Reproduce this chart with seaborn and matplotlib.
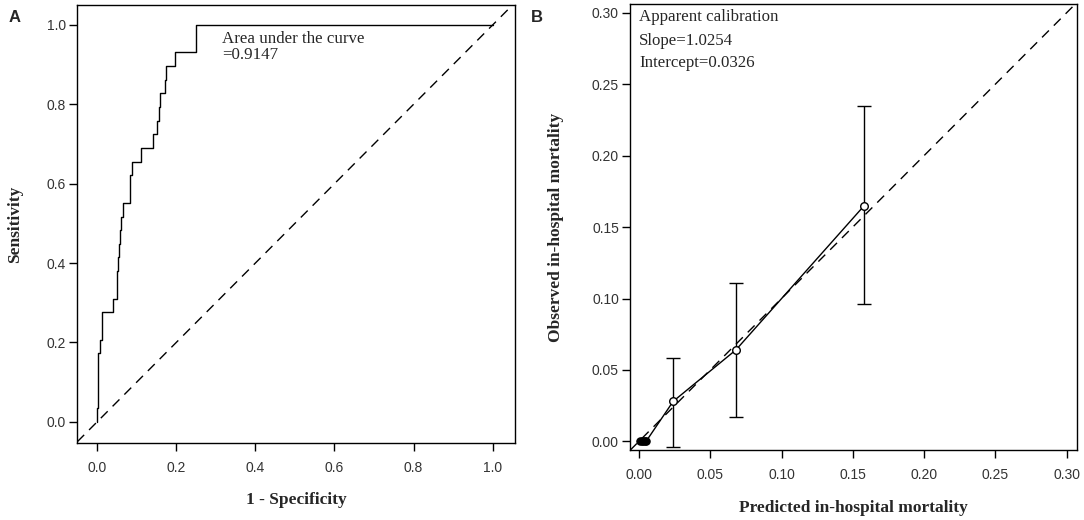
import numpy as np
import pandas as pd
import matplotlib
matplotlib.use("Agg")
import matplotlib.pyplot as plt
import seaborn as sns

# ROC curve (panel A): corners of the empirical step curve
roc_fpr = [0.000, 0.000, 0.003, 0.008, 0.011, 0.013, 0.040, 0.049, 0.051, 0.053,
           0.055, 0.057, 0.060, 0.064, 0.083, 0.087, 0.110, 0.140, 0.150, 0.155,
           0.159, 0.170, 0.175, 0.197, 0.249, 0.249, 1.000]
roc_tpr = [0.000, 0.034, 0.172, 0.207, 0.241, 0.276, 0.310, 0.345, 0.379, 0.414,
           0.448, 0.483, 0.517, 0.552, 0.621, 0.655, 0.690, 0.724, 0.759, 0.793,
           0.828, 0.862, 0.897, 0.931, 0.966, 1.000, 1.000]
auc_text = ["Area under the curve", "=0.9147"]

# calibration (panel B)
cal_pred = [0.0010, 0.0020, 0.0030, 0.0040, 0.0050, 0.024, 0.068, 0.158]
cal_obs = [0.0, 0.0, 0.0, 0.0, 0.0, 0.028, 0.064, 0.165]
ci_pred = [0.024, 0.068, 0.158]
ci_obs = [0.028, 0.064, 0.165]
ci_low = [-0.004, 0.017, 0.096]
ci_high = [0.0586, 0.1106, 0.235]
cal_text = ["Apparent calibration", "Slope=1.0254", "Intercept=0.0326"]

roc_ticks = [0.0, 0.2, 0.4, 0.6, 0.8, 1.0]
cal_ticks = [0.00, 0.05, 0.10, 0.15, 0.20, 0.25, 0.30]

sns.set_theme(style="white")
plt.rcParams["font.family"] = ["Liberation Sans", "DejaVu Sans"]
serif = ["Liberation Serif", "DejaVu Serif"]

fig = plt.figure(figsize=(10.84, 5.2), dpi=100)
ax1 = fig.add_axes([0.0713, 0.1487, 0.4038, 0.8417])
ax2 = fig.add_axes([0.5812, 0.1340, 0.4124, 0.8583])

roc_df = pd.DataFrame({"fpr": roc_fpr, "tpr": roc_tpr})
sns.lineplot(data=roc_df, x="fpr", y="tpr", ax=ax1, estimator=None, sort=False,
             drawstyle="steps-post", color="black", lw=1.0)
ax1.axline((0, 0), slope=1, color="black", lw=1.0, dashes=(7, 5))
ax1.text(0.315, 0.965, auc_text[0], fontsize=12.2, family=serif, va="center")
ax1.text(0.315, 0.924, auc_text[1], fontsize=12.2, family=serif, va="center")
ax1.set_xlim(-0.0506, 1.0566)
ax1.set_ylim(-0.0529, 1.0504)
ax1.set_xticks(roc_ticks)
ax1.set_yticks(roc_ticks)
ax1.set_xticklabels([f"{t:.1f}" for t in roc_ticks])
ax1.set_yticklabels([f"{t:.1f}" for t in roc_ticks])
ax1.set_xlabel("1 - Specificity", fontsize=12.5, family=serif, fontweight="bold")
ax1.set_ylabel("Sensitivity", fontsize=12.5, family=serif, fontweight="bold")
ax1.xaxis.set_label_coords(0.5, -0.113)
ax1.yaxis.set_label_coords(-0.124, 0.5)

cal_df = pd.DataFrame({"pred": cal_pred, "obs": cal_obs})
sns.lineplot(data=cal_df, x="pred", y="obs", ax=ax2, estimator=None, sort=False,
             color="black", lw=1.0)
ax2.axline((0, 0), slope=1, color="black", lw=1.0, dashes=(7, 5))
ax2.errorbar(ci_pred, ci_obs,
             yerr=[np.subtract(ci_obs, ci_low), np.subtract(ci_high, ci_obs)],
             fmt="none", ecolor="black", elinewidth=1.0, capsize=4.8, capthick=1.0)
sns.scatterplot(x=cal_pred[:5], y=cal_obs[:5], ax=ax2, s=28, color="black",
                edgecolor="black", linewidth=0.8, zorder=4)
sns.scatterplot(x=ci_pred, y=ci_obs, ax=ax2, s=30, facecolor="white",
                edgecolor="black", linewidth=1.0, zorder=5)
for i, t in enumerate(cal_text):
    ax2.text(0.0002, [0.297, 0.2805, 0.265][i], t, fontsize=12.2, family=serif,
             va="center")
ax2.set_xlim(-0.0063, 0.3074)
ax2.set_ylim(-0.0063, 0.3062)
ax2.set_xticks(cal_ticks)
ax2.set_yticks(cal_ticks)
ax2.set_xticklabels([f"{t:.2f}" for t in cal_ticks])
ax2.set_yticklabels([f"{t:.2f}" for t in cal_ticks])
ax2.set_xlabel("Predicted in-hospital mortality", fontsize=12.5, family=serif,
               fontweight="bold")
ax2.set_ylabel("Observed in-hospital mortality", fontsize=12.5, family=serif,
               fontweight="bold")
ax2.xaxis.set_label_coords(0.5, -0.112)
ax2.yaxis.set_label_coords(-0.148, 0.5)

for ax in (ax1, ax2):
    for sp in ax.spines.values():
        sp.set_color("black")
        sp.set_linewidth(1.0)
    ax.tick_params(direction="out", length=6, width=1.0, color="black",
                   labelsize=10, labelcolor="#333333", left=True, bottom=True)
    ax.tick_params(axis="x", pad=7)
    ax.tick_params(axis="y", pad=2)
    ax.grid(False)

fig.text(15 / 1084, 1 - 18 / 520, "A", fontsize=12, fontweight="bold",
         ha="center", va="center")
fig.text(537 / 1084, 1 - 18 / 520, "B", fontsize=12, fontweight="bold",
         ha="center", va="center")

fig.savefig("out.png", dpi=100)
